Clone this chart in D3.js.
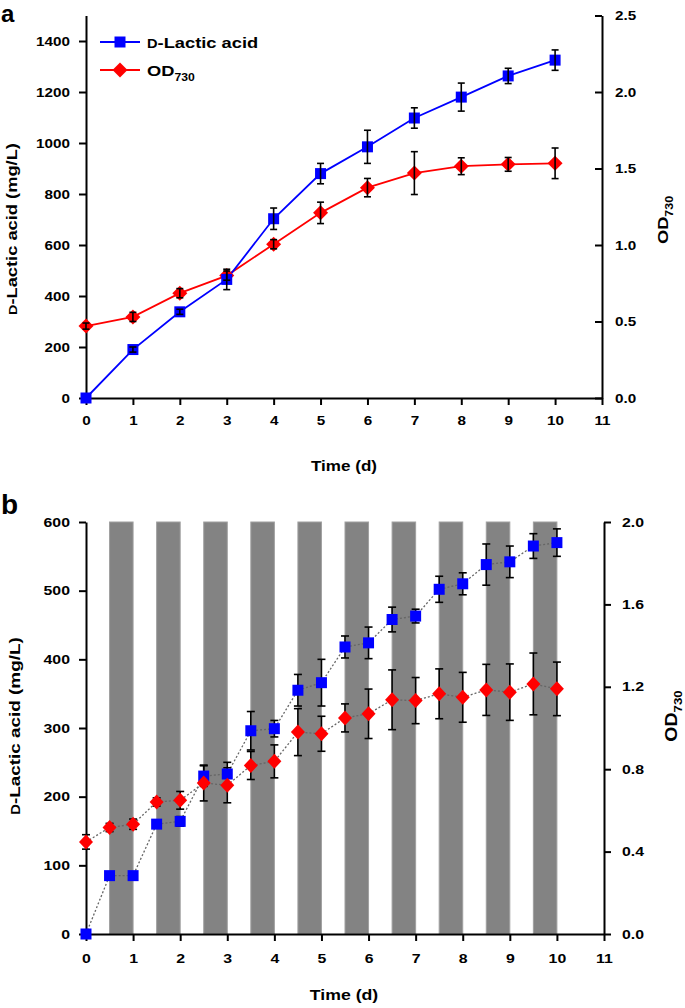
<!DOCTYPE html>
<html><head><meta charset="utf-8">
<script src="https://cdnjs.cloudflare.com/ajax/libs/d3/7.8.5/d3.min.js"></script>
<style>
body{margin:0;background:#fff;}
svg{display:block;font-family:"Liberation Sans",Arial,sans-serif;font-weight:bold;}
</style></head>
<body>
<svg id="chart" width="685" height="1008"></svg>
<script>
// ---- Panel a data ----
const daysA = [0,1,2,3,4,5,6,7,8,9,10];
const lacticA = [0,190,338,465,703,880,985,1098,1180,1263,1325];
const lacticAErr = [0,10,10,40,42,40,65,40,55,30,40];
const odA = [0.47,0.53,0.685,0.80,1.005,1.21,1.375,1.47,1.515,1.527,1.534];
const odAErr = [0.02,0.03,0.03,0.03,0.03,0.07,0.06,0.14,0.055,0.045,0.1];

// ---- Panel b data ----
const daysB = [0,0.5,1,1.5,2,2.5,3,3.5,4,4.5,5,5.5,6,6.5,7,7.5,8,8.5,9,9.5,10];
const lacticB = [0,85,85,160,164,230,233,296,299,355,366,418,424,458,463,502,510,538,542,565,570];
const lacticBErr = [0,4,4,5,7,15,17,28,12,23,34,16,23,18,10,19,16,30,23,18,20];
const odB = [0.447,0.517,0.533,0.641,0.649,0.733,0.722,0.818,0.838,0.98,0.972,1.049,1.069,1.137,1.133,1.166,1.149,1.185,1.174,1.214,1.19];
const odBErr = [0.035,0.02,0.025,0.02,0.043,0.087,0.085,0.068,0.08,0.114,0.085,0.068,0.12,0.145,0.112,0.121,0.121,0.124,0.137,0.15,0.13];
const darkStarts = [0.5,1.5,2.5,3.5,4.5,5.5,6.5,7.5,8.5,9.5];
const darkLength = 0.5;

// tick values
const xTicks = [0,1,2,3,4,5,6,7,8,9,10,11];
const yTicksLeftA = [0,200,400,600,800,1000,1200,1400];
const yTicksRightA = [0,0.5,1.0,1.5,2.0,2.5];
const yTicksLeftB = [0,100,200,300,400,500,600];
const yTicksRightB = [0,0.4,0.8,1.2,1.6,2.0];

const svg = d3.select("#chart");
const BLUE = "#0000ff", RED = "#ff0000";
const S = 1.22; // horizontal stretch of lettering (along reading direction)

function styleAxis(g, fs){
  g.selectAll("path.domain").attr("stroke","#000").attr("stroke-width",2);
  g.selectAll(".tick line").attr("stroke","#000").attr("stroke-width",2);
  g.selectAll(".tick text").attr("fill","#000").attr("font-size",fs).attr("font-weight","bold")
    .attr("font-family","Liberation Sans, Arial, sans-serif")
    .each(function(){
      const t = d3.select(this);
      const xv = +t.attr("x") || 0;
      t.attr("x", xv / S).attr("transform", `scale(${S},1)`);
    });
}

function squareSym(size){ return d3.symbol().type(d3.symbolSquare).size(size*size)(); }
function diamondPath(rx, ry){ return `M0,${-ry}L${rx},0L0,${ry}L${-rx},0Z`; }

function drawErr(g, xs, ys, errs, x, y, capW){
  const eg = g.append("g");
  xs.forEach((t,i)=>{
    if(!errs[i]) return;
    const cx = x(t), y1 = y(ys[i]-errs[i]), y2 = y(ys[i]+errs[i]);
    eg.append("line").attr("x1",cx).attr("x2",cx).attr("y1",y1).attr("y2",y2).attr("stroke","#000").attr("stroke-width",1.6);
    [y1,y2].forEach(yy=>eg.append("line").attr("x1",cx-capW).attr("x2",cx+capW).attr("y1",yy).attr("y2",yy).attr("stroke","#000").attr("stroke-width",1.6));
  });
}

function lacticLabel(g, x, y, fs){
  const t = g.append("text").attr("transform",`translate(${x},${y}) rotate(-90) scale(${S},1)`).attr("text-anchor","middle")
    .attr("font-size",fs).attr("font-weight","bold").attr("fill","#000");
  t.append("tspan").attr("font-size",fs*0.78).text("D");
  t.append("tspan").text("-Lactic acid (mg/L)");
}
function odLabel(g, x, y, fs){
  const t = g.append("text").attr("transform",`translate(${x},${y}) rotate(-90) scale(${S},1)`).attr("text-anchor","middle")
    .attr("font-size",fs).attr("font-weight","bold").attr("fill","#000");
  t.append("tspan").text("OD");
  t.append("tspan").attr("font-size",fs*0.68).attr("dy",fs*0.3).text("730");
}
function plainText(g, x, y, fs, txt, anchor){
  return g.append("text").attr("transform",`translate(${x},${y}) scale(${S},1)`).attr("text-anchor",anchor||"start")
    .attr("font-size",fs).attr("font-weight","bold").attr("fill","#000").text(txt);
}

// ================= Panel a =================
{
  const g = svg.append("g");
  const x = d3.scaleLinear().domain([0,11]).range([86,602]);
  const yL = d3.scaleLinear().domain([0,1500]).range([398,15.5]);
  const yR = d3.scaleLinear().domain([0,2.5]).range([398,15.5]);

  const gx = g.append("g").attr("transform","translate(0,398)")
    .call(d3.axisBottom(x).tickValues(xTicks).tickSize(7).tickPadding(11).tickSizeOuter(0).tickFormat(d3.format("d")));
  styleAxis(gx, 12.5);
  const gl = g.append("g").attr("transform","translate(86,0)")
    .call(d3.axisLeft(yL).tickValues(yTicksLeftA).tickSize(7).tickPadding(9).tickSizeOuter(0).tickFormat(d3.format("d")));
  styleAxis(gl, 12.5);
  const gr = g.append("g").attr("transform","translate(602,0)")
    .call(d3.axisRight(yR).tickValues(yTicksRightA).tickSize(-7).tickPadding(13).tickSizeOuter(0).tickFormat(d3.format(".1f")));
  styleAxis(gr, 12.5);

  // titles
  plainText(g, 344, 471, 14, "Time (d)", "middle");
  lacticLabel(g, 17, 229, 15);
  odLabel(g, 668, 220, 15);
  g.append("text").attr("x",1).attr("y",22).attr("font-size",24).attr("fill","#000").text("a");

  // lines
  g.append("path").datum(daysA.map((d,i)=>[d,odA[i]])).attr("fill","none").attr("stroke",RED).attr("stroke-width",1.8)
    .attr("d", d3.line().x(d=>x(d[0])).y(d=>yR(d[1])));
  g.append("path").datum(daysA.map((d,i)=>[d,lacticA[i]])).attr("fill","none").attr("stroke",BLUE).attr("stroke-width",1.8)
    .attr("d", d3.line().x(d=>x(d[0])).y(d=>yL(d[1])));

  // markers
  g.append("g").selectAll("path").data(daysA).join("path")
    .attr("transform",(d,i)=>`translate(${x(d)},${yR(odA[i])})`).attr("d",diamondPath(7.5,7.5)).attr("fill",RED);
  g.append("g").selectAll("path").data(daysA).join("path")
    .attr("transform",(d,i)=>`translate(${x(d)},${yL(lacticA[i])})`).attr("d",squareSym(11)).attr("fill",BLUE);

  drawErr(g, daysA, odA, odAErr, x, yR, 3.5);
  drawErr(g, daysA, lacticA, lacticAErr, x, yL, 3.5);

  // legend
  const lg = g.append("g");
  lg.append("line").attr("x1",100).attr("x2",140).attr("y1",42).attr("y2",42).attr("stroke",BLUE).attr("stroke-width",1.8);
  lg.append("path").attr("transform","translate(120,42)").attr("d",squareSym(11)).attr("fill",BLUE);
  const t1 = lg.append("text").attr("transform",`translate(147,48) scale(${S},1)`).attr("font-size",15).attr("fill","#000");
  t1.append("tspan").attr("font-size",12).text("D");
  t1.append("tspan").text("-Lactic acid");
  lg.append("line").attr("x1",100).attr("x2",140).attr("y1",70).attr("y2",70).attr("stroke",RED).attr("stroke-width",1.8);
  lg.append("path").attr("transform","translate(120,70)").attr("d",diamondPath(7.5,7.5)).attr("fill",RED);
  const t2 = lg.append("text").attr("transform",`translate(147,76) scale(${S},1)`).attr("font-size",15).attr("fill","#000");
  t2.append("tspan").text("OD");
  t2.append("tspan").attr("font-size",10).attr("dy",5).text("730");
}

// ================= Panel b =================
{
  const g = svg.append("g");
  const x = d3.scaleLinear().domain([0,11]).range([86,604]);
  const yL = d3.scaleLinear().domain([0,600]).range([934,522]);
  const yR = d3.scaleLinear().domain([0,2.0]).range([934,522]);

  // dark bars
  g.append("g").selectAll("rect").data(darkStarts).join("rect")
    .attr("x",d=>x(d)).attr("width",d=>x(d+darkLength)-x(d))
    .attr("y",yL(600)).attr("height",yL(0)-yL(600))
    .attr("fill","#838383").attr("stroke","#a0a0a0").attr("stroke-width",1);

  const gx = g.append("g").attr("transform","translate(0,934)")
    .call(d3.axisBottom(x).tickValues(xTicks).tickSize(7).tickPadding(13).tickSizeOuter(0).tickFormat(d3.format("d")));
  styleAxis(gx, 13);
  const gl = g.append("g").attr("transform","translate(86,0)")
    .call(d3.axisLeft(yL).tickValues(yTicksLeftB).tickSize(7).tickPadding(9).tickSizeOuter(0).tickFormat(d3.format("d")));
  styleAxis(gl, 13);
  const gr = g.append("g").attr("transform","translate(604,0)")
    .call(d3.axisRight(yR).tickValues(yTicksRightB).tickSize(7).tickPadding(11).tickSizeOuter(0).tickFormat(d3.format(".1f")));
  styleAxis(gr, 13);

  plainText(g, 344, 1000, 14.5, "Time (d)", "middle");
  lacticLabel(g, 20, 726, 15.5);
  odLabel(g, 677, 716, 16);
  g.append("text").attr("x",1).attr("y",514).attr("font-size",28).attr("fill","#000").text("b");

  // dotted connecting lines
  g.append("path").datum(daysB.map((d,i)=>[d,lacticB[i]])).attr("fill","none").attr("stroke","#666").attr("stroke-width",1.3)
    .attr("stroke-dasharray","2,2").attr("d", d3.line().x(d=>x(d[0])).y(d=>yL(d[1])));
  g.append("path").datum(daysB.map((d,i)=>[d,odB[i]])).attr("fill","none").attr("stroke","#666").attr("stroke-width",1.3)
    .attr("stroke-dasharray","2,2").attr("d", d3.line().x(d=>x(d[0])).y(d=>yR(d[1])));

  drawErr(g, daysB, lacticB, lacticBErr, x, yL, 4);
  drawErr(g, daysB, odB, odBErr, x, yR, 4);

  g.append("g").selectAll("path").data(daysB).join("path")
    .attr("transform",(d,i)=>`translate(${x(d)},${yL(lacticB[i])})`).attr("d",squareSym(11)).attr("fill",BLUE);
  g.append("g").selectAll("path").data(daysB).join("path")
    .attr("transform",(d,i)=>`translate(${x(d)},${yR(odB[i])})`).attr("d",diamondPath(7,7.5)).attr("fill",RED);
}
</script>
</body></html>
